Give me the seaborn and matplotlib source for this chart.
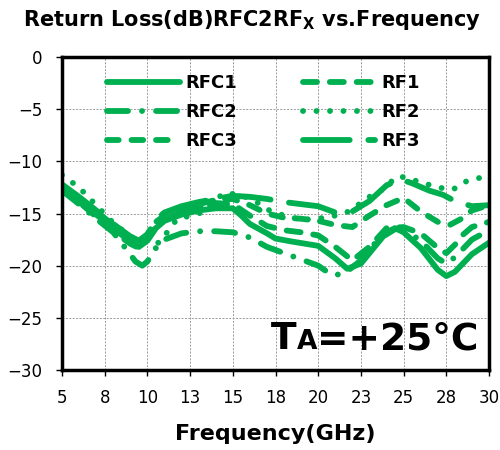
import numpy as np
import pandas as pd
import matplotlib
matplotlib.use("Agg")
import matplotlib.pyplot as plt
import seaborn as sns
from matplotlib.offsetbox import TextArea, HPacker, AnchoredOffsetbox

# ---- data ----
freq_rfc1 = [5, 6, 7, 8, 9, 9.5, 10, 10.5, 11, 12, 13, 14, 15, 15.5, 16, 17, 17.5, 18.5, 20,
             21, 21.7, 22.5, 23, 24, 24.5, 25, 26, 27, 27.5, 28, 29, 30]
rl_rfc1 = [-12.5, -13.8, -15.1, -16.4, -17.7, -18.2, -17.6, -16.4, -15.7, -15.1, -14.7, -14.5, -14.5,
           -15.2, -16.0, -16.9, -17.4, -17.7, -18.1, -19.3, -20.3, -19.8, -18.8, -16.8, -16.4, -16.8,
           -18.3, -20.4, -21.0, -20.6, -18.9, -17.8]

freq_rfc2 = [5, 6, 7, 8, 8.8, 9.3, 9.7, 10, 10.5, 11, 12, 13, 14, 15, 16, 17, 18, 19, 20, 20.8,
             21.5, 22.5, 23.5, 24.5, 25, 26, 27, 27.5, 28, 29, 30]
rl_rfc2 = [-12.8, -14.1, -15.5, -16.8, -18.5, -19.6, -20.0, -19.6, -18.3, -17.5, -16.9, -16.7, -16.7,
           -16.8, -17.3, -18.2, -18.8, -19.4, -20.0, -20.9, -20.8, -19.5, -17.5, -16.5, -16.5, -17.6,
           -19.3, -19.8, -19.2, -17.5, -16.6]

freq_rfc3 = [5, 6, 7, 8, 9, 9.5, 10, 10.5, 11, 12, 13, 14, 15, 16, 17, 18, 19, 20, 21, 22, 23, 24,
             25, 26, 27, 27.7, 28.5, 29, 30]
rl_rfc3 = [-12.3, -13.5, -14.8, -16.1, -17.3, -17.7, -17.0, -15.8, -15.2, -14.6, -14.1, -13.7, -13.6,
           -14.2, -15.0, -15.4, -15.5, -15.7, -16.1, -16.3, -15.2, -14.2, -13.5, -14.8, -15.8, -16.1,
           -15.4, -14.7, -14.2]

freq_rf1 = [5, 6, 7, 8, 9, 9.5, 10, 10.5, 11, 12, 13, 14, 15, 16, 17, 18, 19, 20, 21, 22, 23, 24,
            25, 26, 27, 27.5, 28, 28.5, 29, 30]
rl_rf1 = [-12.6, -13.9, -15.3, -16.7, -17.9, -18.3, -17.5, -16.2, -15.5, -14.8, -14.3, -14.0, -14.1,
          -15.2, -16.2, -16.6, -16.8, -17.1, -18.2, -19.5, -18.2, -16.4, -16.3, -16.9, -18.3, -18.8,
          -18.0, -17.0, -16.3, -15.8]

freq_rf2 = [5, 6, 7, 8, 9, 9.5, 10, 10.7, 11.7, 12.5, 13.2, 14, 14.6, 15.6, 16.5, 17, 18, 19, 20,
            21, 21.8, 23, 24, 24.5, 25, 26, 27, 27.9, 28.5, 29.4, 30]
rl_rf2 = [-11.3, -12.5, -14.2, -15.9, -17.2, -17.6, -17.8, -17.8, -15.6, -15.2, -14.9, -13.6, -13.0,
          -13.3, -14.0, -14.6, -15.2, -15.6, -15.5, -15.2, -14.8, -13.4, -12.5, -11.5, -11.5, -12.0,
          -12.5, -12.7, -12.0, -11.6, -11.5]

freq_rf3 = [5, 6, 7, 8, 9, 9.5, 10, 10.5, 11, 12, 13, 14, 15, 16, 17, 18, 19, 20, 21, 22, 23, 24,
            24.8, 25.5, 26.5, 27.3, 28, 29, 30]
rl_rf3 = [-12.2, -13.4, -14.7, -16.0, -17.2, -17.6, -17.0, -15.6, -14.9, -14.3, -13.9, -13.6, -13.3,
          -13.4, -13.6, -13.9, -14.1, -14.3, -14.9, -14.8, -13.8, -12.3, -11.7, -12.1, -12.8, -13.2,
          -13.8, -14.3, -14.2]

series_names = ["RFC1", "RFC2", "RFC3", "RF1", "RF2", "RF3"]
series_freq = [freq_rfc1, freq_rfc2, freq_rfc3, freq_rf1, freq_rf2, freq_rf3]
series_rl = [rl_rfc1, rl_rfc2, rl_rfc3, rl_rf1, rl_rf2, rl_rf3]

x_ticks = [5, 7.5, 10, 12.5, 15, 17.5, 20, 22.5, 25, 27.5, 30]
x_tick_labels = ["5", "8", "10", "13", "15", "18", "20", "23", "25", "28", "30"]
y_ticks = [0, -5, -10, -15, -20, -25, -30]

# ---- style ----
green = "#00B050"
lw = 4.2
dash_styles = {
    "RFC1": "-",
    "RFC2": (0, (3.6, 2.4, 0.01, 2.4)),
    "RFC3": (0, (2.0, 2.2)),
    "RF1": (0, (2.4, 2.2)),
    "RF2": (0, (0.01, 2.3)),
    "RF3": (0, (8.0, 3.2)),
}

sns.set_style("white")
plt.rcParams["font.family"] = ["DejaVu Sans"]
plt.rcParams["mathtext.fontset"] = "dejavusans"
for key in ["text.color", "axes.labelcolor", "xtick.color", "ytick.color"]:
    plt.rcParams[key] = "black"

fig = plt.figure(figsize=(5, 4.5), dpi=100)
ax = fig.add_axes([0.124, 0.178, 0.854, 0.695])

for name, f, rl in zip(series_names, series_freq, series_rl):
    df = pd.DataFrame({"Frequency": f, "RL": rl})
    sns.lineplot(data=df, x="Frequency", y="RL", ax=ax, color=green, lw=lw,
                 linestyle=dash_styles[name], label=name,
                 dash_capstyle="round", solid_capstyle="round")

ax.set_xlim(5, 30)
ax.set_ylim(-30, 0)
ax.set_xticks(x_ticks)
ax.set_xticklabels(x_tick_labels)
ax.set_yticks(y_ticks)
ax.tick_params(axis="both", labelsize=12, direction="out", length=4, width=1,
               color="black", bottom=True, left=True, pad=10)
ax.grid(True, color="#9a9a9a", linestyle=(0, (2, 1.5)), linewidth=0.7)
for s in ax.spines.values():
    s.set_visible(True)
    s.set_color("black")
    s.set_linewidth(2.5)

ax.set_xlabel("Frequency(GHz)", fontsize=16, fontweight="bold", labelpad=12)
ax.set_ylabel("")
fig.suptitle(r"Return Loss(dB)RFC2RF$_\mathbf{X}$ vs.Frequency", x=0.505, y=0.982,
             fontsize=15, fontweight="bold")

leg = ax.legend(ncol=2, frameon=False, loc="upper left", bbox_to_anchor=(0.085, 0.975),
                prop={"weight": "bold", "size": 13}, handlelength=4.0, handletextpad=0.35,
                columnspacing=3.6, labelspacing=0.62, borderpad=0)
for h in leg.get_lines():
    h.set_linewidth(lw)
    h.set_dash_capstyle("round")
    h.set_solid_capstyle("round")

# TA=+25°C annotation, A smaller
ta_big = dict(fontsize=27, fontweight="bold", color="black")
ta_small = dict(fontsize=19, fontweight="bold", color="black")
box = HPacker(children=[TextArea("T", textprops=ta_big),
                        TextArea("A", textprops=ta_small),
                        TextArea("=+25°C", textprops=ta_big)],
              align="baseline", pad=0, sep=0)
anchored = AnchoredOffsetbox(loc="lower right", child=box, frameon=False,
                             bbox_to_anchor=(0.975, 0.04), bbox_transform=ax.transAxes,
                             borderpad=0, pad=0)
ax.add_artist(anchored)

fig.savefig("out.png", dpi=100)
